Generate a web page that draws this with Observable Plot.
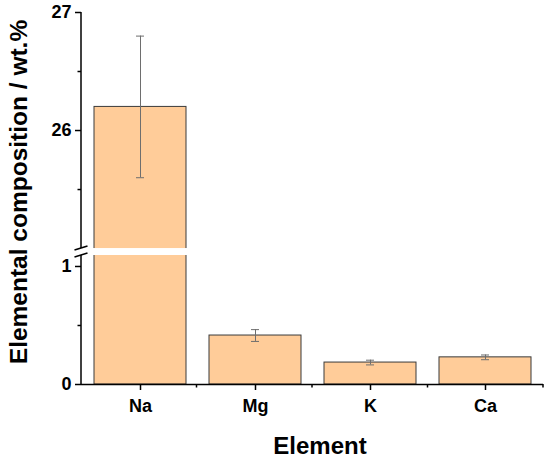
<!DOCTYPE html>
<html>
<head>
<meta charset="utf-8">
<script src="https://cdn.jsdelivr.net/npm/d3@7"></script>
<script src="https://cdn.jsdelivr.net/npm/@observablehq/plot@0.6"></script>
<style>
  body { margin: 0; background: #fff; }
  #chart { width: 550px; height: 463px; }
</style>
</head>
<body>
<div id="chart"></div>
<script>
// ---- data ----
const elements = ["Na", "Mg", "K", "Ca"];
const values = [26.2, 0.415, 0.186, 0.23];
const errors = [0.6, 0.05, 0.02, 0.02];
const yTicks = [0, 1, 26, 27];
const yMinorTicks = [0.5, 25.5, 26.5];
const yTop = 27;
// axis break: lower segment [0, lowerMax], upper segment [upperMin, yTop]
const lowerMax = 1.093;
const upperMin = 25;
const gap = 0.059;

const t = v => (v <= lowerMax + 1e-9 ? v : v - upperMin + lowerMax + gap);

const table = elements.map((el, i) => ({
  el,
  ty: t(values[i]),
  lo: t(values[i] - errors[i]),
  hi: t(values[i] + errors[i])
}));
const tickMap = new Map(yTicks.map(v => [t(v), String(v)]));

const FONT = "'Liberation Sans', Arial, Helvetica, sans-serif";

const plot = Plot.plot({
  width: 550,
  height: 463,
  marginLeft: 81,
  marginRight: 7,
  marginTop: 12,
  marginBottom: 79,
  style: { fontFamily: FONT, fontSize: "18px", fontWeight: "bold", color: "#000", background: "#fff" },
  x: { domain: elements, paddingInner: 0.2, paddingOuter: 0.1, axis: null },
  y: { domain: [0, t(yTop)], axis: null },
  marks: [
    Plot.barY(table, { x: "el", y: "ty", fill: "#FFCC99", stroke: "#3a3a3a", strokeWidth: 1 }),
    Plot.ruleX(table, { x: "el", y1: "lo", y2: "hi", stroke: "#6e6e6e", strokeWidth: 1 }),
    Plot.tickY(table, { x: "el", y: "lo", insetLeft: 42, insetRight: 42, stroke: "#6e6e6e", strokeWidth: 1 }),
    Plot.tickY(table, { x: "el", y: "hi", insetLeft: 42, insetRight: 42, stroke: "#6e6e6e", strokeWidth: 1 }),
    // white break band across the frame
    Plot.rectY([{ y1: lowerMax, y2: lowerMax + gap }], { y1: "y1", y2: "y2", fill: "white", insetLeft: -4 }),
    Plot.ruleY([0], { stroke: "#000", strokeWidth: 1.5 }),
    Plot.axisX({ tickSize: 6, tickPadding: 9, fontSize: 18, fontWeight: "bold", label: null, strokeWidth: 1.5 }),
    Plot.axisY({ ticks: yTicks.map(t), tickFormat: d => tickMap.get(d), tickSize: 6, tickPadding: 4, fontSize: 18, fontWeight: "bold", label: null, strokeWidth: 1.5 }),
    Plot.axisY({ ticks: yMinorTicks.map(t), tickFormat: () => "", tickSize: 3.5, label: null, strokeWidth: 1.5 })
  ]
});

document.getElementById("chart").appendChild(plot);

// ---- decorations: axis lines, break marks, minor x ticks, axis titles ----
const svg = d3.select(plot);
const ys = plot.scale("y");
const xs = plot.scale("x");
const x0 = 81;
const g = svg.append("g").attr("stroke", "#000").attr("stroke-width", 1.5).attr("fill", "none");
// y axis line, two segments
g.append("line").attr("x1", x0).attr("x2", x0).attr("y1", ys.apply(0)).attr("y2", ys.apply(lowerMax));
g.append("line").attr("x1", x0).attr("x2", x0).attr("y1", ys.apply(lowerMax + gap)).attr("y2", ys.apply(t(yTop)));
// break slashes
[lowerMax, lowerMax + gap].forEach(v => {
  const yy = ys.apply(v);
  g.append("line").attr("x1", x0 - 6.5).attr("y1", yy + 2).attr("x2", x0 + 6.5).attr("y2", yy - 2);
});
// minor x ticks at band boundaries
const step = (xs.range[1] - xs.range[0]) / elements.length;
for (let k = 1; k <= elements.length; k++) {
  const xx = xs.range[0] + k * step;
  g.append("line").attr("x1", xx).attr("x2", xx).attr("y1", ys.apply(0)).attr("y2", ys.apply(0) + 3.5);
}
// axis titles
svg.append("text")
  .attr("x", 320).attr("y", 454)
  .attr("text-anchor", "middle")
  .attr("font-family", FONT).attr("font-size", 24).attr("font-weight", "bold").attr("fill", "#000")
  .text("Element");
svg.append("text")
  .attr("transform", "translate(27,192) rotate(-90)")
  .attr("text-anchor", "middle")
  .attr("font-family", FONT).attr("font-size", 24.5).attr("font-weight", "bold").attr("fill", "#000")
  .text("Elemental composition / wt.%");
</script>
</body>
</html>
